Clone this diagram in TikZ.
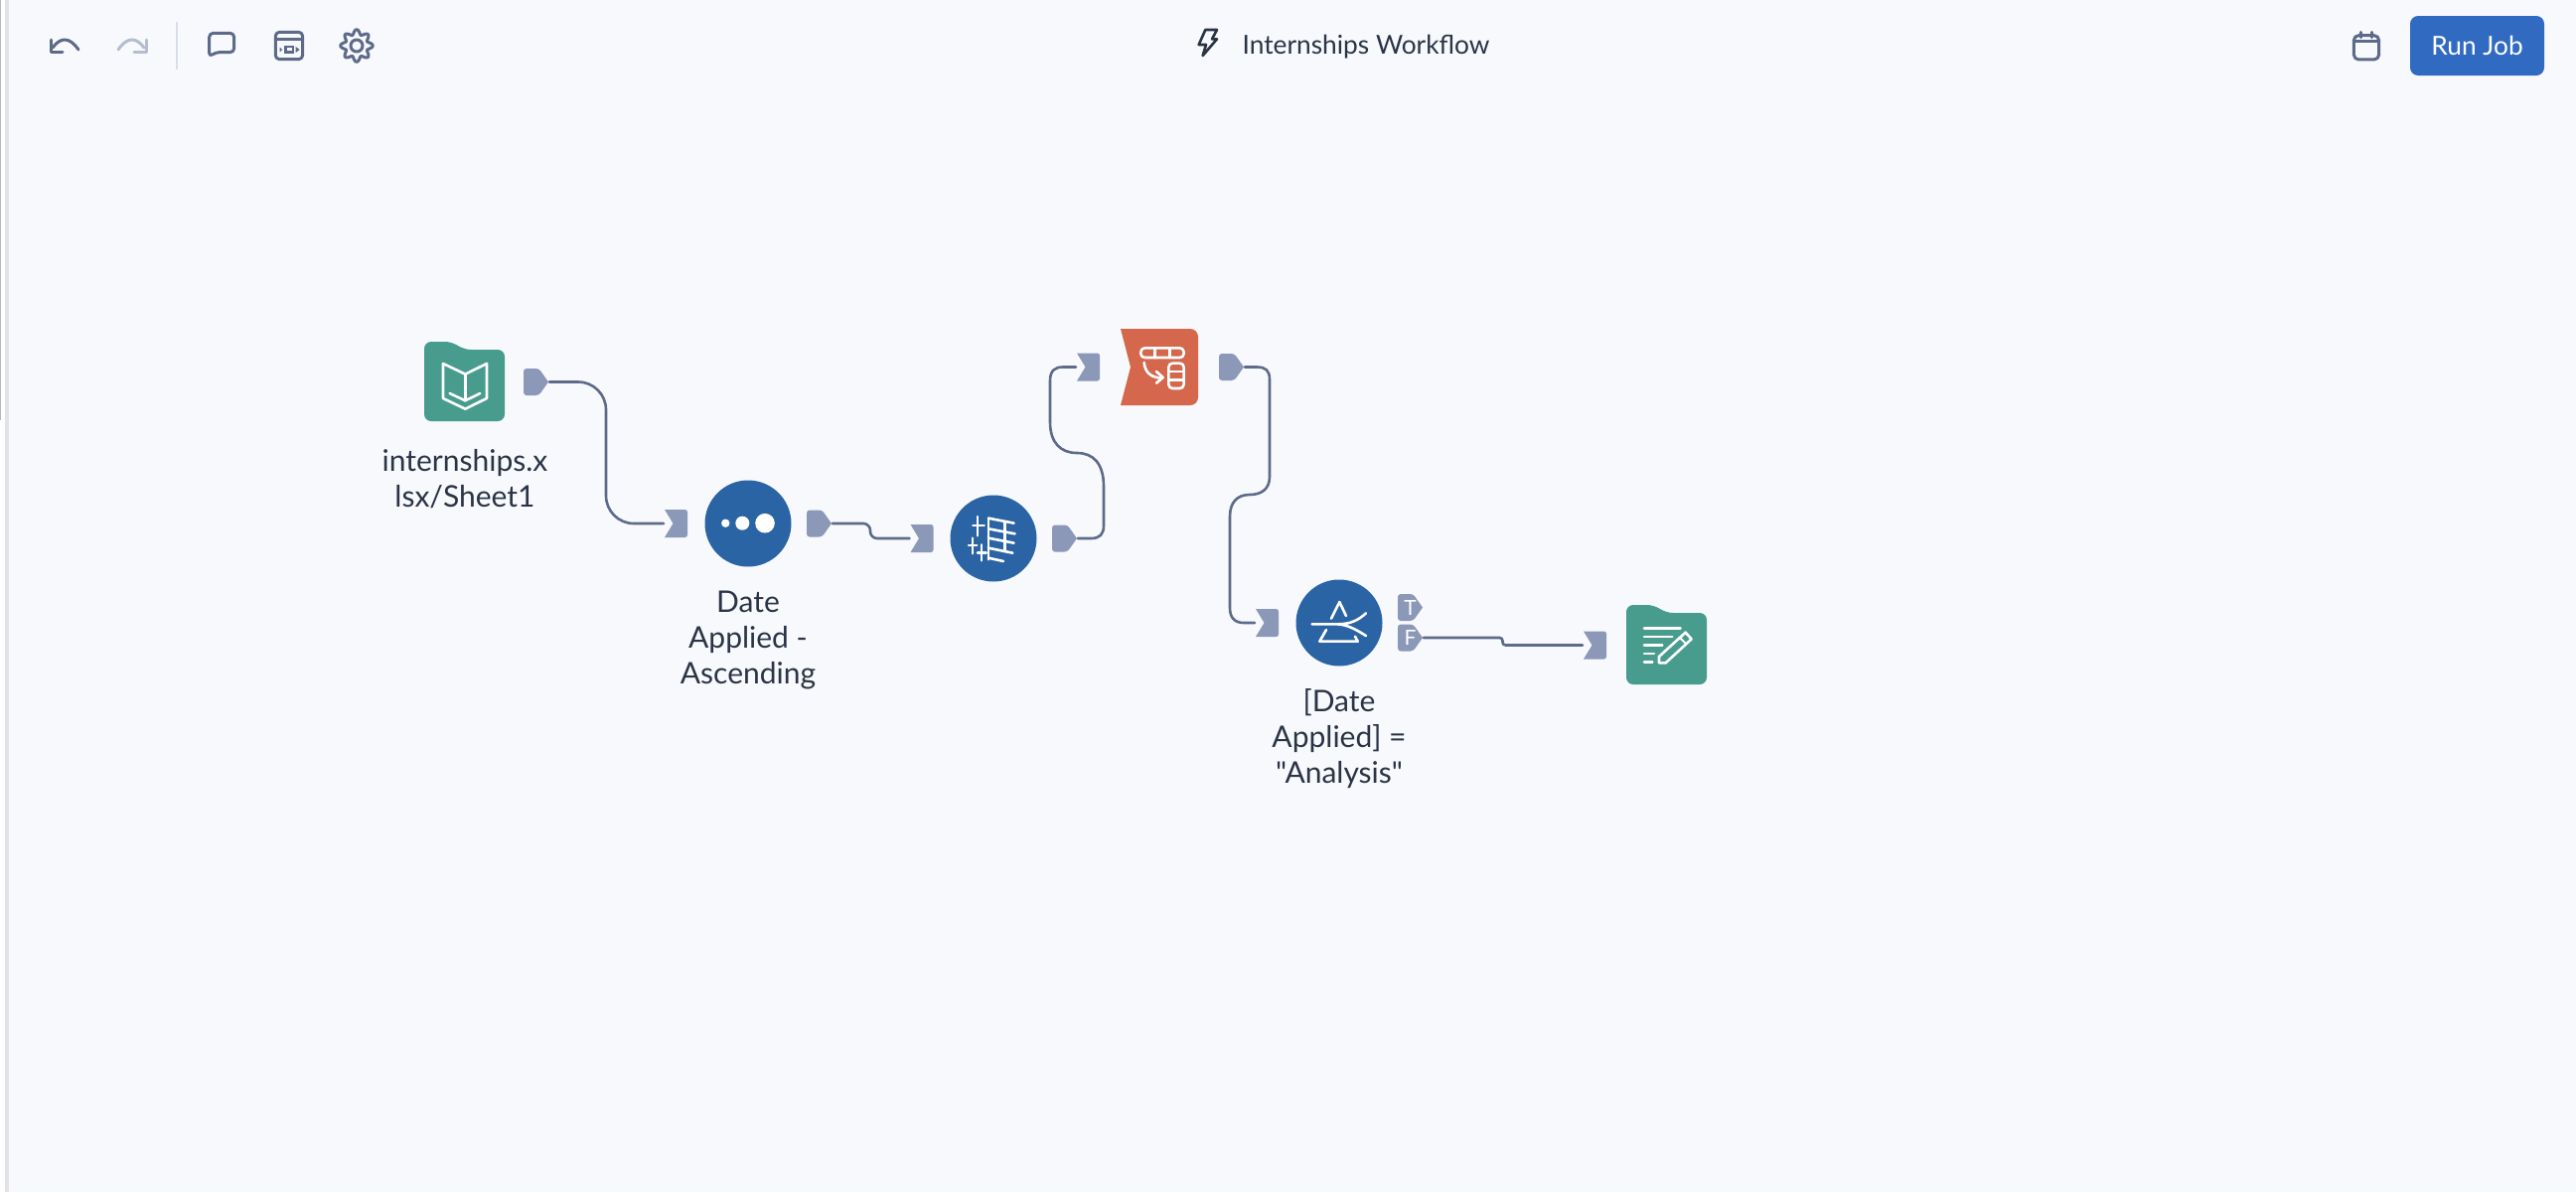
\documentclass[tikz,border=0pt]{standalone}
\usepackage{fontspec}
\newfontfamily\latofont{Lato}
\setmainfont{Lato}
\usetikzlibrary{calc}
\definecolor{bgc}{HTML}{F7F9FD}
\definecolor{portc}{HTML}{8C98B8}
\definecolor{wirec}{HTML}{5E6A8A}
\definecolor{tealc}{HTML}{479C8E}
\definecolor{bluec}{HTML}{2A64A4}
\definecolor{redc}{HTML}{D4674C}
\definecolor{textc}{HTML}{2B3445}
\definecolor{btnc}{HTML}{316BC1}
\definecolor{fadedc}{HTML}{B5BDCE}
\definecolor{sepc}{HTML}{D8DEE8}
\tikzset{
  wire/.style={draw=wirec,line width=2.6pt,line cap=round},
  tool/.style={draw=wirec,line width=3pt,line cap=round,line join=round},
  glyph/.style={draw=white,line width=2.6pt,line cap=round,line join=round},
  tooldisc/.style={circle,fill=bluec,minimum size=87pt,inner sep=0pt},
  lbl/.style={text=textc,font=\latofont\fontsize{30}{35.8}\selectfont,align=center,inner sep=0pt,anchor=base},
  portnode/.style={inner sep=0pt,outer sep=1pt,minimum width=#1,minimum height=27pt,text=white,font=\latofont\fontsize{21}{21}\selectfont},
  zoomed/.style={shift={#1},x=0.3333pt,y=-0.3333pt}
}
% output port: centre x, centre y
\newcommand{\outport}[4]{%
  \fill[portc] [rounded corners=3pt] (#2-12.5,#3-13.5) -- (#2+3,#3-13.5) [sharp corners] -- (#2+12.5,#3) [rounded corners=3pt] -- (#2+3,#3+13.5) -- (#2-12.5,#3+13.5) -- cycle;
  \node[portnode=25pt] (#1) at (#2,#3) {#4\hspace{4pt}};}
% input port: centre x, centre y
\newcommand{\inport}[3]{%
  \fill[portc] (#2-11.5,#3-14) -- (#2+9,#3-14) arc[start angle=-90,end angle=0,radius=2.5] -- (#2+11.5,#3+11.5) arc[start angle=0,end angle=90,radius=2.5] -- (#2-11.5,#3+14) -- (#2-3,#3) -- cycle;
  \node[portnode=23pt] (#1) at (#2,#3) {};}
% folder body: left x, top y
\newcommand{\folderbody}[2]{%
  \fill[tealc,rounded corners=7pt] (#1,#2+80) -- (#1,#2) -- (#1+28,#2) -- (#1+40,#2+8) -- (#1+81,#2+8) -- (#1+81,#2+80) -- cycle;}
\begin{document}
\begin{tikzpicture}[x=1pt,y=-1pt]
\useasboundingbox (0,0) rectangle (2593,1200);
\fill[bgc] (0,0) rectangle (2593,1200);
% left edge
\fill[white!96!bgc] (0,0) rectangle (5,1200);
\fill[black!9!bgc] (5,0) rectangle (9,1200);
\fill[black!28] (0,0) rectangle (1.2,423);

% toolbar left
\draw[tool] (79,50) .. controls (70,37) and (61,37) .. (53,48);
\draw[tool] (51,40) -- (51,52) -- (63,52);
\draw[tool,draw=fadedc] (119,50) .. controls (128,37) and (137,37) .. (145,48);
\draw[tool,draw=fadedc] (147,40) -- (147,52) -- (135,52);
\draw[draw=sepc,line width=2pt] (178,22) -- (178,70);
\begin{scope}[zoomed={(0,0)}]
  \draw[tool,rounded corners=4pt] (632,172) -- (632,100) -- (707,100) -- (707,158) -- (650,158) -- cycle;
  \draw[tool,rounded corners=4pt] (832,97) rectangle (914,179);
  \draw[tool] (832,118) -- (914,118);
  \draw[wirec,line width=2.4pt] (863,141) rectangle (885,158);
  \fill[wirec] (845,143) -- (853,150) -- (845,157) -- cycle;
  \fill[wirec] (893,141) -- (905,150) -- (893,159) -- cycle;
\end{scope}
\draw[tool,line width=3pt] plot[domain=0:360,samples=145,smooth] ({359+(13.8+2.4*cos(8*\x))*cos(\x)},{46+(13.8+2.4*cos(8*\x))*sin(\x)}) -- cycle;
\draw[tool] (359,46) circle[radius=6];

% title
\begin{scope}[zoomed={(1150,0)}]
  \draw[draw=textc,line width=2.6pt,line join=round,line cap=round] (190,90) -- (225,90) -- (210,118) -- (225,118) -- (182,168) -- (192,135) -- (170,135) -- cycle;
\end{scope}
\node[text=textc,font=\latofont\fontsize{26.3}{27}\selectfont,inner sep=0pt,anchor=base] (title) at (1375,54) {Internships Workflow};

% toolbar right
\begin{scope}[zoomed={(2300,0)}]
  \draw[tool,rounded corners=5pt] (208,107) rectangle (284,180);
  \draw[tool] (208,124) -- (284,124);
  \draw[tool] (230,97) -- (230,113);
  \draw[tool] (262,97) -- (262,113);
\end{scope}
\node[fill=btnc,rounded corners=8pt,minimum width=135pt,minimum height=60pt,inner sep=0pt] (run) at (2493.5,46) {};
\node[text=white,font=\latofont\fontsize{26.3}{27}\selectfont,inner sep=0pt,anchor=base] (runtext) at (2493.5,55) {Run Job};

% tools
\folderbody{427}{344}
\begin{scope}[zoomed={(370,320)}]
  \draw[glyph] (228,138) -- (295,170) -- (360,138) -- (360,243) -- (295,275) -- (228,243) -- cycle;
  \draw[glyph] (295,170) -- (295,248);
  \draw[glyph] (248,228) -- (295,250) -- (340,228);
\end{scope}
\node[lbl] (srclabel) at (468,510) {internships.x\\lsx/Sheet1};

\node[tooldisc] (sort) at (753,527) {};
\fill[white] (730.3,526.7) circle[radius=4.2] (747.3,526.7) circle[radius=7] (770,526.7) circle[radius=9.8];
\node[lbl] (sortlabel) at (753,688) {Date\\Applied -\\Ascending};

\node[tooldisc] (select) at (1000,542) {};
\begin{scope}[zoomed={(960,500)}]
  \draw[glyph] (72,60) -- (72,118) (58,87) -- (92,87);
  \draw[glyph] (57,125) -- (57,172) (45,147) -- (70,147);
  \draw[glyph] (84,145) -- (84,193) (72,170) -- (98,170);
  \draw[glyph] (105,65) -- (105,190) (155,75) -- (155,165);
  \draw[glyph] (105,65) -- (182,80) (105,97) -- (185,112) (105,125) -- (182,140) (105,155) -- (178,170) (105,185) -- (150,195);
\end{scope}

\fill[redc] (1128,331) -- (1198,331) arc[start angle=-90,end angle=0,radius=8] -- (1206,400) arc[start angle=0,end angle=90,radius=8] -- (1128,408) -- (1138,369.5) -- cycle;
\node[inner sep=0pt,minimum width=78pt,minimum height=77pt] (pivot) at (1167,369.5) {};
\begin{scope}[zoomed={(1040,310)}]
  \draw[glyph,rounded corners=4pt] (325,121) rectangle (455,150);
  \draw[glyph] (367,121) -- (367,150) (412,121) -- (412,150);
  \draw[glyph,rounded corners=4pt] (409,167) rectangle (455,243);
  \draw[glyph] (409,192) -- (455,192) (409,218) -- (455,218);
  \draw[glyph] (335,165) .. controls (338,195) and (355,210) .. (388,212);
  \draw[glyph] (372,192) -- (392,210) -- (372,227);
\end{scope}

\node[tooldisc] (filter) at (1348,627) {};
\begin{scope}[zoomed={(1300,590)}]
  \draw[glyph] (120,98) -- (145,48) -- (165,90);
  \draw[glyph] (62,115) -- (140,115) .. controls (175,115) and (200,105) .. (225,82);
  \draw[glyph] (140,115) .. controls (175,118) and (200,135) .. (225,150);
  \draw[glyph] (105,132) -- (85,167) -- (200,167) -- (192,152);
\end{scope}
\node[lbl] (filterlabel) at (1348,788) {[Date\\Applied] =\\"Analysis"};

\folderbody{1637}{609}
\begin{scope}[zoomed={(1400,580)}]
  \draw[glyph] (765,158) -- (875,158) (765,183) -- (850,183) (765,208) -- (820,208) (765,234) -- (795,234) (765,260) -- (790,260);
  \draw[glyph,line join=round] (890,170) -- (908,190) -- (830,262) -- (810,262) -- (810,243) -- cycle;
  \draw[glyph,line width=2pt] (872,185) -- (892,205);
\end{scope}

% ports
\outport{o1}{539.5}{384.5}{}
\inport{i2}{680.5}{527}
\outport{o2}{824.5}{527}{}
\inport{i3}{928}{542}
\outport{o3}{1071.5}{542}{}
\inport{i4}{1095.5}{369.5}
\outport{o4}{1239.5}{369.5}{}
\inport{i5}{1275.5}{627}
\outport{ot}{1419.5}{611.5}{T}
\outport{of}{1419.5}{642}{F}
\inport{i6}{1605.5}{649.5}

% connectors
\draw[wire,rounded corners=28pt] (o1.east) -| (610,455) |- (i2.west);
\draw[wire,rounded corners=7pt] (o2.east) -- (876,527) -- (876,542) -- (i3.west);
\draw[wire] (o3.east) -- (1098,542) .. controls (1107,542) and (1111,538) .. (1111,529) -- (1111,490) .. controls (1111,466) and (1100,456) .. (1084,456) .. controls (1068,456) and (1057,446) .. (1057,425) -- (1057,383) .. controls (1057,373) and (1062,369.5) .. (1070,369.5) -- (i4.west);
\draw[wire] (o4.east) -- (1265,369.5) .. controls (1274,369.5) and (1278,373) .. (1278,382) -- (1278,480) .. controls (1278,492) and (1270,498) .. (1258,498) .. controls (1245,498) and (1238,506) .. (1238,520) -- (1238,612) .. controls (1238,622) and (1243,627) .. (1252,627) -- (i5.west);
\draw[wire,rounded corners=3pt] (of.east) -- (1512.5,642) -- (1512.5,649.5) -- (i6.west);
\end{tikzpicture}
\end{document}
